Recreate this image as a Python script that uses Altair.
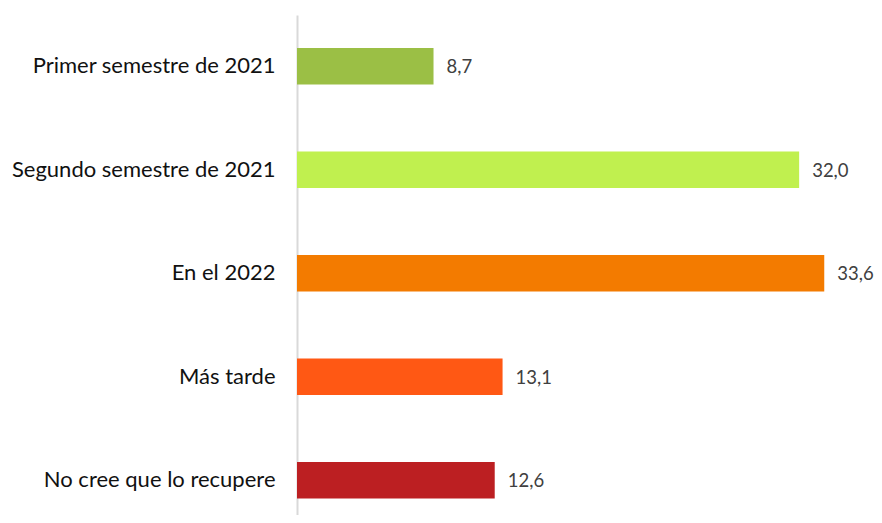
import altair as alt
import pandas as pd

categories = ["Primer semestre de 2021", "Segundo semestre de 2021", "En el 2022",
              "Más tarde", "No cree que lo recupere"]
values = [8.7, 32.0, 33.6, 13.1, 12.6]
colors = ["#9BBF45", "#C0F04F", "#F37B00", "#FF5814", "#BC1F22"]

df = pd.DataFrame({"cat": categories, "value": values})

FONT = "Lato"

y = alt.Y("cat:N", sort=categories, title=None,
          scale=alt.Scale(paddingInner=0.647, paddingOuter=0.239, align=0.667),
          axis=alt.Axis(domainColor="#d9d9d9", domainWidth=2, ticks=False,
                        labelPadding=22, labelFontSize=22, labelFont=FONT,
                        labelColor="#111111", labelLimit=400))
x = alt.X("value:Q", title=None, scale=alt.Scale(domain=[0, 36.77], nice=False),
          axis=None)

bars = alt.Chart(df).mark_bar().encode(
    x=x, y=y,
    color=alt.Color("cat:N", sort=categories,
                    scale=alt.Scale(domain=categories, range=colors), legend=None),
)

text = alt.Chart(df).transform_calculate(
    lbl="replace(format(datum.value, '.1f'), '.', ',')"
).mark_text(align="left", baseline="middle", dx=13, dy=1, fontSize=18.5, font=FONT,
            color="#404040").encode(
    x=x, y=alt.Y("cat:N", sort=categories), text="lbl:N")

chart = (bars + text).properties(
    width=577, height=500,
    autosize=alt.AutoSizeParams(type="none"),
    padding={"left": 289, "top": 7, "right": 0, "bottom": 0},
).configure(background="white").configure_view(stroke=None)

chart.save("out.html", embed_options={"renderer": "svg", "actions": False})
